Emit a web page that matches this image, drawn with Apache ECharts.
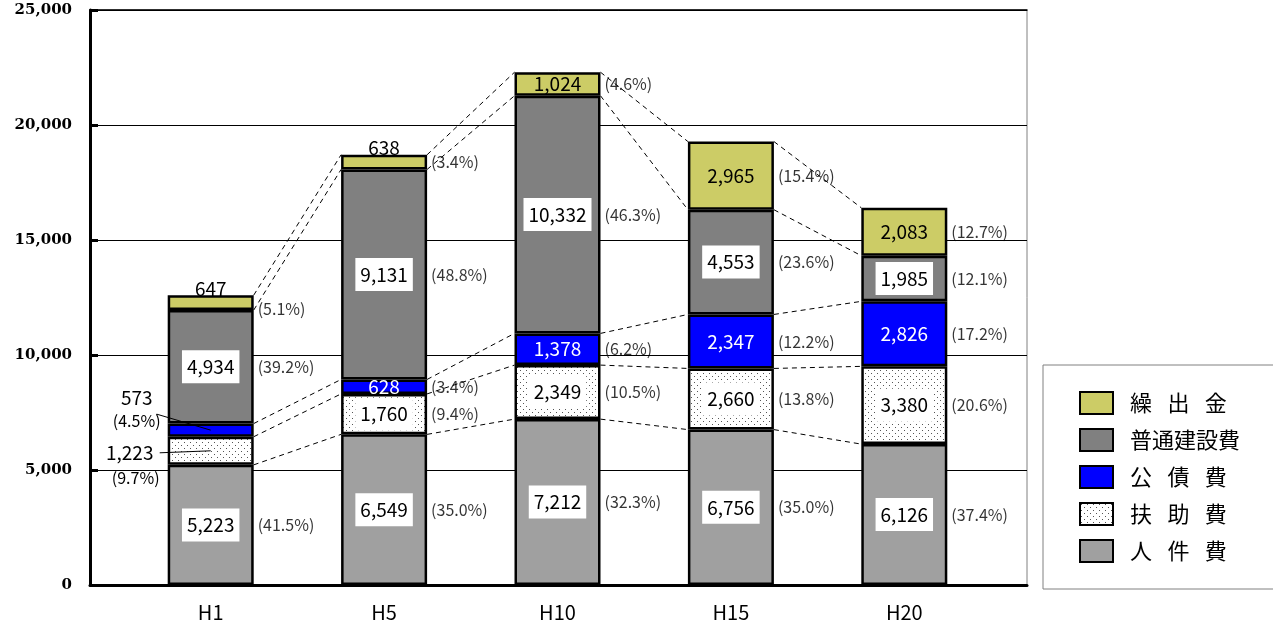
<!DOCTYPE html>
<html><head><meta charset="utf-8">
<script src="https://cdn.jsdelivr.net/npm/echarts@6/dist/echarts.min.js"></script>
<style>html,body{margin:0;padding:0;background:#fff}#c{width:1273px;height:625px}</style>
</head><body><div id="c"></div>
<script>
// ---- data ----
const categories = ['H1', 'H5', 'H10', 'H15', 'H20'];
const seriesNames = ['人件費', '扶助費', '公債費', '普通建設費', '繰出金'];
const jinkenhi = [5223, 6549, 7212, 6756, 6126];
const fujohi = [1223, 1760, 2349, 2660, 3380];
const kousaihi = [573, 628, 1378, 2347, 2826];
const futsuuKensetsuhi = [4934, 9131, 10332, 4553, 1985];
const kuridashikin = [647, 638, 1024, 2965, 2083];
const jinkenhiPct = ['41.5', '35.0', '32.3', '35.0', '37.4'];
const fujohiPct = ['9.7', '9.4', '10.5', '13.8', '20.6'];
const kousaihiPct = ['4.5', '3.4', '6.2', '12.2', '17.2'];
const futsuuPct = ['39.2', '48.8', '46.3', '23.6', '12.1'];
const kuridashiPct = ['5.1', '3.4', '4.6', '15.4', '12.7'];
const yAxisMin = 0, yAxisMax = 25000, yAxisStep = 5000;

const values = [jinkenhi, fujohi, kousaihi, futsuuKensetsuhi, kuridashikin];
const pcts = [jinkenhiPct, fujohiPct, kousaihiPct, futsuuPct, kuridashiPct];

// ---- derived ----
const cumTop = [], cumMid = [];
{
  const run = categories.map(() => 0);
  values.forEach((arr, k) => {
    cumTop[k] = []; cumMid[k] = [];
    arr.forEach((v, i) => { cumMid[k][i] = run[i] + v / 2; run[i] += v; cumTop[k][i] = run[i]; });
  });
}
const fmt = v => v.toLocaleString('en-US');
const FONT = '"Noto Sans CJK JP","Noto Sans",sans-serif';
const HALF = 43;

// label placement rules (style only)
const outsideNote = { '2-0': 'upper', '1-0': 'lower' }; // series-cat handled by leader notes
const topLabel = { '4-0': true, '4-1': true };
const pctShift = { '4-0': 6 };

// dot pattern
const pat = document.createElement('canvas');
pat.width = 6; pat.height = 6;
{
  const g = pat.getContext('2d');
  g.fillStyle = '#fff'; g.fillRect(0, 0, 6, 6);
  g.fillStyle = '#555';
  g.fillRect(1, 1, 1, 1); g.fillRect(4, 4, 1, 1);
}
const colors = ['#A0A0A0', { image: pat, repeat: 'repeat' }, '#0000FF', '#808080', '#CCCC66'];
const boxed = [true, true, false, true, false];
const textColor = ['#000', '#000', '#fff', '#000', '#000'];

const barSeries = seriesNames.map((name, k) => ({
  name, type: 'bar', stack: 'total', xAxisIndex: 2, yAxisIndex: 1, barWidth: 86,
  itemStyle: { color: colors[k], borderColor: '#000', borderWidth: 2.5 },
  data: values[k].map((v, i) => {
    const key = k + '-' + i;
    const lab = {
      show: !outsideNote[key], position: topLabel[key] ? 'top' : 'inside', distance: -3,
      formatter: fmt(v), color: textColor[k], fontSize: 19, fontFamily: FONT
    };
    if (boxed[k]) { lab.backgroundColor = '#fff'; lab.padding = [7, 5]; }
    return { value: v, label: lab };
  }),
  z: 2
}));

// percent labels
const pctData = [];
seriesNames.forEach((n, k) => categories.forEach((c, i) => {
  const key = k + '-' + i;
  if (!outsideNote[key]) pctData.push({ value: [i, cumMid[k][i]], pct: '(' + pcts[k][i] + '%)',
    label: { offset: [0, pctShift[key] || 0] } });
}));

// series connector lines
const lineData = [];
for (let k = 0; k < seriesNames.length; k++)
  for (let i = 0; i < categories.length - 1; i++) lineData.push([i, cumTop[k][i], cumTop[k][i + 1]]);

// leader notes
const noteData = [];
seriesNames.forEach((n, k) => categories.forEach((c, i) => {
  const t = outsideNote[k + '-' + i];
  if (t) noteData.push({ value: [i, cumMid[k][i]], txt: fmt(values[k][i]), pct: '(' + pcts[k][i] + '%)', kind: t });
}));

const chart = echarts.init(document.getElementById('c'));
chart.setOption({
  animation: false,
  backgroundColor: '#fff',
  grid: [
    { left: 90, right: 246, top: 10, bottom: 40, show: true, borderColor: '#808080', borderWidth: 1, backgroundColor: 'transparent' },
    { left: 124, right: 282, top: 10, bottom: 40 }
  ],
  xAxis: [
    { gridIndex: 0, type: 'category', data: categories, position: 'bottom',
      axisLine: { lineStyle: { color: '#000', width: 3 } }, axisTick: { show: false }, axisLabel: { show: false }, splitLine: { show: false } },
    { gridIndex: 0, type: 'category', data: categories, position: 'top',
      axisLine: { lineStyle: { color: '#000', width: 1.5 } }, axisTick: { show: false }, axisLabel: { show: false }, splitLine: { show: false } },
    { gridIndex: 1, type: 'category', data: categories, position: 'bottom',
      axisLine: { show: false }, axisTick: { show: false },
      axisLabel: { color: '#000', fontSize: 20, fontFamily: FONT, margin: 17 } }
  ],
  yAxis: [
    { gridIndex: 0, type: 'value', min: yAxisMin, max: yAxisMax, interval: yAxisStep,
      axisLine: { show: true, lineStyle: { color: '#000', width: 3 } },
      axisTick: { show: true, inside: true, length: 8, lineStyle: { color: '#000', width: 3 } },
      axisLabel: { color: '#000', fontSize: 15, fontWeight: 'bold', fontFamily: '"DejaVu Serif",serif', margin: 18,
        formatter: v => fmt(v) },
      splitLine: { lineStyle: { color: '#000', width: 1 } } },
    { gridIndex: 1, type: 'value', min: yAxisMin, max: yAxisMax, interval: yAxisStep, show: false, splitLine: { show: false } }
  ],
  legend: {
    orient: 'vertical', left: 1043, top: 365, padding: [26, 200, 26, 36],
    itemWidth: 33, itemHeight: 22, itemGap: 13, icon: 'rect',
    borderColor: '#808080', borderWidth: 1, backgroundColor: '#fff',
    data: ['繰出金', '普通建設費', '公債費', '扶助費', '人件費'],
    formatter: n => ({ '繰出金': '繰\u2002\u2009出\u2002\u2009金', '公債費': '公\u2002\u2009債\u2002\u2009費', '扶助費': '扶\u2002\u2009助\u2002\u2009費', '人件費': '人\u2002\u2009件\u2002\u2009費' }[n] || n),
    textStyle: { fontSize: 22, fontFamily: FONT, color: '#000', padding: [0, 0, 0, 12] },
    selectedMode: false
  },
  series: [
    ...barSeries,
    {
      type: 'custom', name: 'connectors', xAxisIndex: 2, yAxisIndex: 1, silent: true, z: 1, clip: false,
      encode: { x: 0, y: [1, 2] },
      data: lineData,
      renderItem: (params, api) => {
        const p1 = api.coord([api.value(0), api.value(1)]);
        const p2 = api.coord([api.value(0) + 1, api.value(2)]);
        return { type: 'line', shape: { x1: p1[0] + HALF, y1: p1[1], x2: p2[0] - HALF, y2: p2[1] },
          style: { stroke: '#000', lineWidth: 1, lineDash: [5, 4] } };
      }
    },
    {
      type: 'scatter', name: 'pct', xAxisIndex: 2, yAxisIndex: 1, symbolSize: 0, silent: true, z: 3,
      data: pctData,
      label: { show: true, position: 'right', distance: 47, color: '#000', fontSize: 16, fontFamily: FONT,
        formatter: p => p.data.pct }
    },
    {
      type: 'custom', name: 'notes', xAxisIndex: 2, yAxisIndex: 1, silent: true, z: 4, clip: false,
      encode: { x: 0, y: 1 },
      data: noteData,
      renderItem: (params, api) => {
        const d = noteData[params.dataIndex];
        const p = api.coord([api.value(0), api.value(1)]);
        const ts = (text, x, y, size) => ({ type: 'text', style: { text, x, y, align: 'center', verticalAlign: 'middle', fontSize: size, fontFamily: FONT, fill: '#000' } });
        if (d.kind === 'upper') {
          return { type: 'group', children: [
            ts(d.txt, p[0] - 74, p[1] - 32, 19),
            ts(d.pct, p[0] - 74, p[1] - 9, 16),
            { type: 'line', shape: { x1: p[0] - 54, y1: p[1] - 16, x2: p[0], y2: p[1] }, style: { stroke: '#000', lineWidth: 1 } }
          ] };
        }
        return { type: 'group', children: [
          ts(d.txt, p[0] - 81, p[1] + 2, 19),
          ts(d.pct, p[0] - 75, p[1] + 27, 16),
          { type: 'line', shape: { x1: p[0] - 51, y1: p[1] + 2, x2: p[0], y2: p[1] }, style: { stroke: '#000', lineWidth: 1 } }
        ] };
      }
    }
  ]
});
</script></body></html>
